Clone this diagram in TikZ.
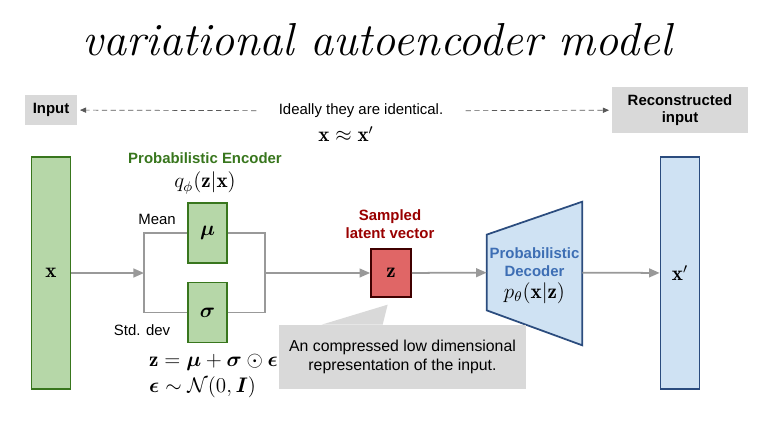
\documentclass[tikz,border=0pt]{standalone}
\usepackage{fontspec}
\setsansfont{Liberation Sans}
\usepackage{amsmath}
\usepackage{amssymb}
\usetikzlibrary{arrows.meta, positioning, calc, backgrounds}
\definecolor{encgreen}{HTML}{B6D7A8}
\definecolor{encdark}{HTML}{38761D}
\definecolor{zred}{HTML}{E06666}
\definecolor{zdark}{HTML}{990000}
\definecolor{decblue}{HTML}{CFE2F3}
\definecolor{decdark}{HTML}{2B4C7E}
\definecolor{dectext}{HTML}{3D6EB4}
\definecolor{boxgray}{HTML}{D9D9D9}
\definecolor{linegray}{HTML}{999999}

\begin{document}
\begin{tikzpicture}[
    x=0.02cm, y=-0.02cm,
    font=\sffamily\fontsize{8.5}{10}\selectfont,
    nd/.style={draw, line width=1pt, inner sep=0pt},
    enc/.style={nd, fill=encgreen, draw=encdark},
    col/.style={nd, minimum width=0.78cm, minimum height=4.64cm},
    gbox/.style={fill=boxgray, align=center, inner sep=0pt},
    ttl/.style={font=\sffamily\bfseries\fontsize{8.5}{10}\selectfont, align=center},
    mth/.style={font=\large},
    ln/.style={draw=linegray, line width=1pt},
    ax/.style={ln, -{Triangle[length=6pt, width=5pt]}},
    dsh/.style={draw=black!65, densely dashed, -{Triangle[length=3.5pt, width=3pt]}, shorten <=0.44cm, shorten >=1.5pt}
]
\useasboundingbox (0,0) rectangle (783,436);

\node[anchor=base, font=\rmfamily\itshape\fontsize{26.3}{30}\selectfont] (T) at (377,55) {variational autoencoder model};

% top row
\node[gbox, ttl, minimum width=1.04cm, minimum height=0.6cm] (In) at (51,110) {Input};
\node[gbox, ttl, minimum width=2.72cm, minimum height=0.94cm] (Rec) at (680,110) {Reconstructed\\input};
\node[inner sep=0pt] (Id) at (361,111) {Ideally they are identical.};
\node[mth] (Eq) at (346,134) {$\mathbf{x} \approx \mathbf{x}'$};
\draw[dsh] (Id) -- (In);
\draw[dsh] (Id) -- (Rec);

% encoder
\node[enc, col, mth] (X) at (51,273) {$\mathbf{x}$};
\node[ttl, text=encdark] (EncT) at (205,158) {Probabilistic Encoder};
\node[mth] (Q) at (205,183) {$q_\phi(\mathbf{z}|\mathbf{x})$};
\node[enc, mth, minimum width=0.78cm, minimum height=1.2cm] (Mu) at (207.5,233) {$\boldsymbol{\mu}$};
\node[enc, mth, minimum width=0.78cm, minimum height=1.2cm] (Sg) at (207.5,312.5) {$\boldsymbol{\sigma}$};
\node (Mean) at (157,219) {Mean};
\node (Std) at (142,330) {Std. dev};
\coordinate (SL) at (144,273);
\coordinate (SR) at (265,273);
\draw[ax] (X) -- (SL);
\draw[ln] (Mu.west) -| (SL) |- (Sg.west);
\draw[ln] (Mu.east) -| (SR) |- (Sg.east);
\node[mth, anchor=west] (Rp) at (143,362) {$\mathbf{z} = \boldsymbol{\mu} + \boldsymbol{\sigma} \odot \boldsymbol{\epsilon}$};
\node[mth, anchor=west] (Ep) at (143,387) {$\boldsymbol{\epsilon} \sim \mathcal{N}(0, \boldsymbol{I})$};

% latent
\node[nd, fill=zred, draw=black!75!red, mth, minimum width=0.8cm, minimum height=0.96cm] (Z) at (391,273) {$\mathbf{z}$};
\node[ttl, text=zdark] (ZT) at (390,224) {Sampled\\latent vector};
\draw[ax] (SR) -- (Z);

% decoder
\node[minimum width=1.9cm, minimum height=1.5cm, inner sep=0pt] (Dec) at (534.5,272.5) {};
\node[ttl, text=dectext] (DecT) at (534.5,262) {Probabilistic\\Decoder};
\node[mth] (P) at (534.5,293) {$p_\theta(\mathbf{x}|\mathbf{z})$};
\begin{scope}[on background layer]
\draw[nd, fill=decblue, draw=decdark] (Dec.south west) -- (Dec.north west) -- ($(Dec.north east)+(0,-33)$) -- ($(Dec.south east)+(0,35)$) -- cycle;
\end{scope}
\draw[ax] (Z) -- (Dec);
\node[col, fill=decblue, draw=decdark, mth] (Xr) at (680,273) {$\mathbf{x}'$};
\draw[ax] (Dec) -- (Xr);

% callout
\node[gbox, minimum width=4.94cm, minimum height=1.28cm, font=\sffamily\fontsize{9}{11}\selectfont] (Note) at (402.5,357) {An compressed low dimensional\\representation of the input.};
\fill[boxgray] ($(Note.north west)+(43,0)$) -- ($(Note.north west)+(109,-20)$) -- ($(Note.north west)+(104,0)$) -- cycle;
\end{tikzpicture}
\end{document}
